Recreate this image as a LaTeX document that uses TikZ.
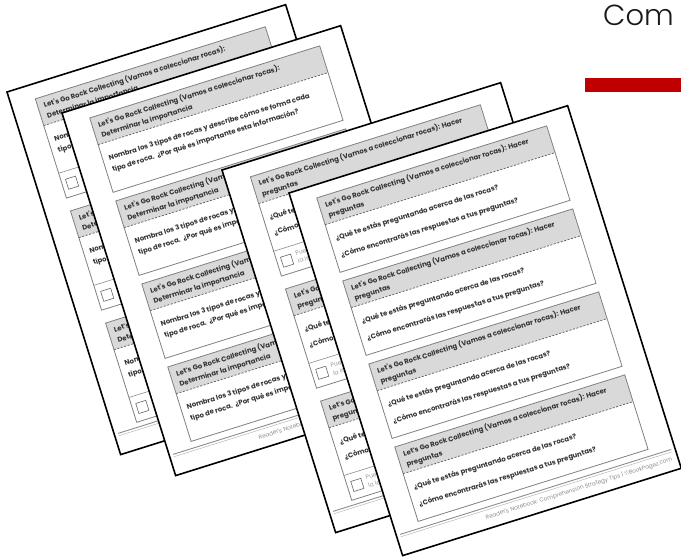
\documentclass[tikz,border=0pt]{standalone}
\usepackage{fontspec}
\newfontfamily\cardfont{Poppins}
\newfontfamily\comfont{Poppins Light}
\definecolor{barred}{RGB}{192,0,0}
\tikzset{
  pageframe/.style={draw=black, line width=1.6pt, fill=white},
  cardframe/.style={draw=black!50, line width=0.8pt},
  cardhead/.style={fill=black!15},
  headsep/.style={draw=black!65, line width=0.7pt, dash pattern=on 2pt off 1.6pt},
  rowsep/.style={draw=black!45, line width=0.6pt},
  cardtxt/.style={anchor=base west, inner sep=0pt, font=\cardfont\bfseries\fontsize{6.9}{8}\selectfont, text=black!80},
  boxtxt/.style={anchor=base west, inner sep=0pt, font=\cardfont\fontsize{6}{7}\selectfont, text=black!40},
  foottxt/.style={anchor=base east, inner sep=0pt, font=\cardfont\fontsize{5.7}{6}\selectfont, text=black!45},
  chk/.style={draw=black!60, line width=0.6pt, fill=white, minimum size=10.5pt, inner sep=0pt},
  footline/.style={draw=black!45, line width=0.9pt},
  footlineb/.style={draw=black!28, line width=0.5pt}
}
\newcommand{\rkframe}[2]{%
  \path[cardhead] (25,#1) rectangle (266,#1+28);
  \draw[headsep] (25,#1+28) -- (266,#1+28);
  \draw[cardframe] (25,#1) rectangle (266,#1+#2);}
\newcommand{\rkhead}[4]{%
  \node[cardtxt] (#1-a) at (31,#2+11.5) {#3};
  \node[cardtxt] (#1-b) at (31,#2+22.5) {#4};}
\newcommand{\rkbody}[6]{%
  \node[cardtxt] (#1-c) at (31,#2+#3) {#5};
  \node[cardtxt] (#1-d) at (31,#2+#4) {#6};}
\newcommand{\rkcheck}[2]{%
  \draw[rowsep] (25,#2+78) -- (266,#2+78);
  \node[chk] (#1-k) at (35,#2+91) {};}
\newcommand{\rkpage}[1]{%
  \draw[pageframe] (0,0) rectangle (292,380);
  \draw[footline] (4,359) -- (288,359);
  \draw[footlineb] (4,361.5) -- (288,361.5);
  \node[foottxt] (#1-ft) at (286,370.5) {Reader's Notebook: Comprehension Strategy Tips | ©BookPagez.com};}
\begin{document}
\begin{tikzpicture}[x=1pt, y=-1pt]
\useasboundingbox (0,0) rectangle (681,558);
% title fragment and red bar
\node[anchor=base west, inner sep=0pt, font=\comfont\fontsize{29}{29}\selectfont, text=black!90] (title) at (603,25) {Com};
\fill[barred] (585,78) rectangle (681,92);
% page 1
\begin{scope}[shift={(7,92)}, rotate=17.4, transform shape]
  \rkpage{pA}
  \foreach \t [count=\cc] in {15,132.5,250} {
    \rkframe{\t}{104}
    \rkhead{pA\cc}{\t}{Let's Go Rock Collecting (Vamos a coleccionar rocas):}{Determinar la importancia}
    \rkbody{pA\cc}{\t}{46.5}{58.5}{Nombra los 3 tipos de rocas y describe cómo se forma cada}{tipo de roca.\ \ ¿Por qué es importante esta información?}
    \rkcheck{pA\cc}{\t}
  }
\end{scope}
% page 2
\begin{scope}[shift={(62,113)}, rotate=17.4, transform shape]
  \rkpage{pB}
  \foreach \t [count=\cc] in {13,100,187,274} {
    \rkframe{\t}{78}
    \rkhead{pB\cc}{\t}{Let's Go Rock Collecting (Vamos a coleccionar rocas):}{Determinar la importancia}
    \rkbody{pB\cc}{\t}{46.5}{58.5}{Nombra los 3 tipos de rocas y describe cómo se forma cada}{tipo de roca.\ \ ¿Por qué es importante esta información?}
  }
\end{scope}
% page 3
\begin{scope}[shift={(222,170)}, rotate=17.4, transform shape]
  \rkpage{pC}
  \foreach \t [count=\cc] in {15,132.5,250} {
    \rkframe{\t}{104}
    \rkhead{pC\cc}{\t}{Let's Go Rock Collecting (Vamos a coleccionar rocas): Hacer}{preguntas}
    \rkbody{pC\cc}{\t}{47}{63}{¿Qué te estás preguntando acerca de las rocas?}{¿Cómo encontrarás las respuestas a tus preguntas?}
    \rkcheck{pC\cc}{\t}
    \node[boxtxt] (pC\cc-e) at (45,\t+89) {Puedo hacer preguntas antes, durante y después de};
    \node[boxtxt] (pC\cc-f) at (45,\t+97) {la lectura.};
  }
\end{scope}
% page 4
\begin{scope}[shift={(289,193)}, rotate=17.4, transform shape]
  \rkpage{pD}
  \foreach \t [count=\cc] in {13,100,187,274} {
    \rkframe{\t}{78}
    \rkhead{pD\cc}{\t}{Let's Go Rock Collecting (Vamos a coleccionar rocas): Hacer}{preguntas}
    \rkbody{pD\cc}{\t}{46.5}{64.5}{¿Qué te estás preguntando acerca de las rocas?}{¿Cómo encontrarás las respuestas a tus preguntas?}
  }
\end{scope}
\end{tikzpicture}
\end{document}
